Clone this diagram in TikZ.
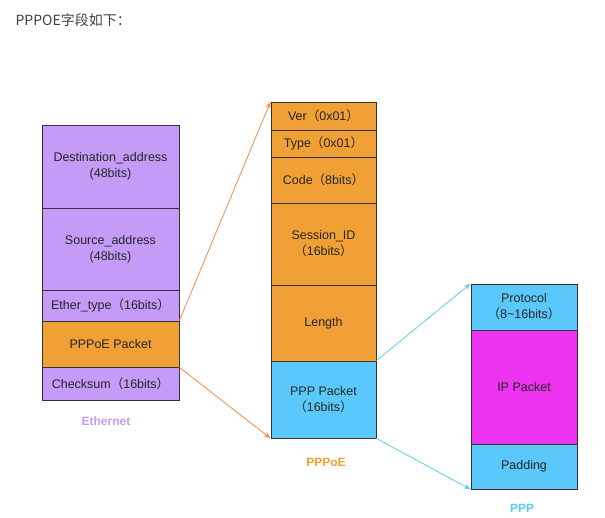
\documentclass[tikz,border=0pt]{standalone}
\usepackage{fontspec}
\setmainfont{Liberation Sans}
\newfontfamily\cjk{Noto Sans CJK SC}
\usepackage{tikz}
\usetikzlibrary{positioning,arrows.meta}

\definecolor{ethpurple}{RGB}{196,156,248}
\definecolor{pppoeorange}{RGB}{240,160,52}
\definecolor{pppblue}{RGB}{90,200,250}
\definecolor{ipmagenta}{RGB}{236,52,240}
\definecolor{arrorange}{RGB}{242,140,70}
\definecolor{arrblue}{RGB}{96,204,246}
\newcommand{\lp}{{\cjk （}}
\newcommand{\rp}{{\cjk ）}}

\begin{document}
\begin{tikzpicture}[x=1pt, y=-1pt,
    field/.style={draw=black!80, line width=0.8pt, align=center, inner sep=0pt,
      font=\fontsize{12.5}{16}\selectfont, text=black!85},
    ethfield/.style={field, fill=ethpurple, minimum width=137pt},
    pppoefield/.style={field, fill=pppoeorange, minimum width=105pt},
    pppfield/.style={field, fill=pppblue, minimum width=106pt},
    caption/.style={font=\fontsize{12}{14}\selectfont\bfseries},
    link/.style={-{Stealth[length=7pt, width=5pt]}, line width=0.8pt}
  ]
    \useasboundingbox (0,0) rectangle (605,518);
    \node[anchor=west, font=\cjk\fontsize{14}{16}\selectfont, text=black!75] (title) at (12,20)
      {PPPOE字段如下：};
    % Ethernet
    \node[ethfield, minimum height=83pt] (eDst) at (110.5,166.5)
      {Destination\_address\\(48bits)};
    \node[ethfield, minimum height=82pt] (eSrc) at (110.5,249)
      {Source\_address\\(48bits)};
    \node[ethfield, minimum height=31pt] (eType) at (110.5,305.5)
      {Ether\_type\lp 16bits\rp};
    \node[ethfield, fill=pppoeorange, minimum height=46pt] (ePkt) at (110.5,344)
      {PPPoE Packet};
    \node[ethfield, minimum height=33pt] (eChk) at (110.5,383.5)
      {Checksum\lp 16bits\rp};
    \node[caption, text=ethpurple] (ethLbl) at (106,421) {Ethernet};
    % PPPoE
    \node[pppoefield, minimum height=28pt] (pVer) at (323.5,116) {Ver\lp 0x01\rp};
    \node[pppoefield, minimum height=27pt] (pType) at (323.5,143.5) {Type\lp 0x01\rp};
    \node[pppoefield, minimum height=46pt] (pCode) at (323.5,180) {Code\lp 8bits\rp};
    \node[pppoefield, minimum height=82pt] (pSid) at (323.5,244)
      {Session\_ID\\\lp 16bits\rp};
    \node[pppoefield, minimum height=76pt] (pLen) at (323.5,323) {Length};
    \node[pppoefield, fill=pppblue, minimum height=77pt] (pPpp) at (323.5,399.5)
      {PPP Packet\\\lp 16bits\rp};
    \node[caption, text=pppoeorange] (pppoeLbl) at (326,462) {PPPoE};
    % PPP
    \node[pppfield, minimum height=46pt] (qProto) at (524,307)
      {Protocol\\\lp 8\textasciitilde16bits\rp};
    \node[pppfield, fill=ipmagenta, minimum height=114pt] (qIp) at (524,387) {IP Packet};
    \node[pppfield, minimum height=45pt] (qPad) at (524,466.5) {Padding};
    \node[caption, text=pppblue] (pppLbl) at (522,508) {PPP};
    % links
    \draw[link, arrorange] (ePkt.north east) -- (pVer.north west);
    \draw[link, arrorange] (ePkt.south east) -- (pPpp.south west);
    \draw[link, arrblue] (pPpp.north east) -- (qProto.north west);
    \draw[link, arrblue] (pPpp.south east) -- (qPad.south west);
  \end{tikzpicture}
\end{document}
